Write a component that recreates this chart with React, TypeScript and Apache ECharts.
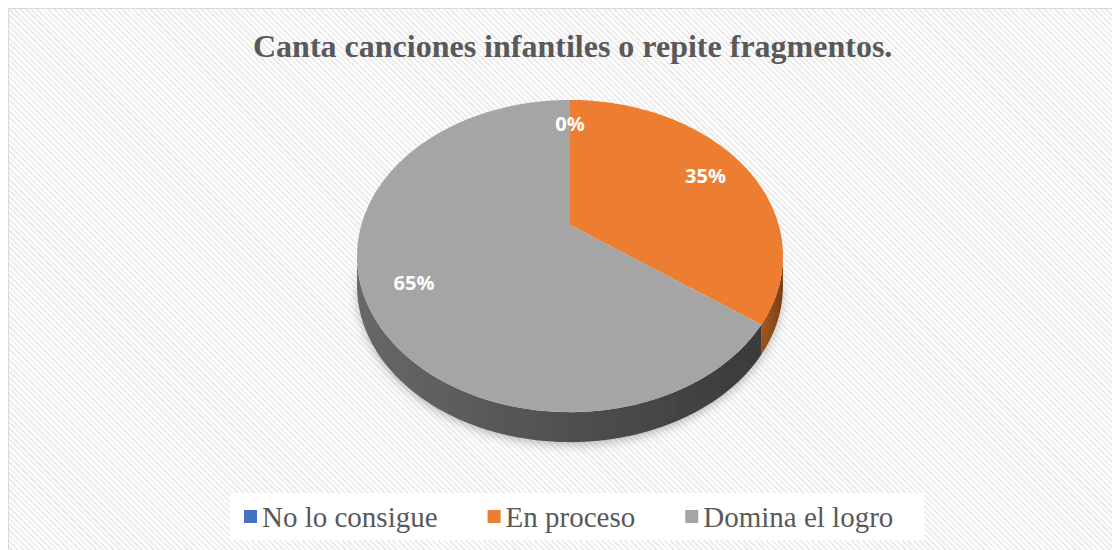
import React, { useEffect, useRef } from "react";
import * as echarts from "echarts";

const titleText = "Canta canciones infantiles o repite fragmentos.";
const categories = ["No lo consigue", "En proceso", "Domina el logro"];
const values = [0, 35, 65];
const colors = ["#4472C4", "#ED7D31", "#A5A5A5"];
const sideColors = [
  ["#2f5597", "#203864"],
  ["#a55a22", "#7a3d12"],
  ["#686868", "#3a3a3a"],
];

// projection geometry (pixels, chart coordinates)
const CX = 562;
const CY = 217;
const A = 208.7;
const B = 149.9;
const K = 0.199;
const DEPTH = 30;
const LABEL_R = 0.78;

function proj(theta: number, r: number): number[] {
  const u = r * Math.sin(theta);
  const v = r * Math.cos(theta);
  const d = 1 + K * v;
  return [CX + (A * u) / d, CY - (B * v) / d];
}

function rim(t1: number, t2: number, dy: number): number[][] {
  const pts: number[][] = [];
  const n = Math.max(2, Math.ceil(((t2 - t1) / (Math.PI * 2)) * 240));
  for (let i = 0; i <= n; i++) {
    const t = t1 + ((t2 - t1) * i) / n;
    const p = proj(t, 1);
    pts.push([p[0], p[1] + dy]);
  }
  return pts;
}

export default function App() {
  const ref = useRef<HTMLDivElement>(null);
  useEffect(() => {
    if (!ref.current) return;
    const chart = echarts.init(ref.current, undefined, { renderer: "svg" });
    const total = values.reduce((a, b) => a + b, 0);
    const starts: number[] = [];
    let acc = 0;
    values.forEach((v) => {
      starts.push(acc);
      acc += v;
    });
    const frontStart = Math.acos(-K);
    const frontEnd = Math.PI * 2 - Math.acos(-K);

    const series = categories.map((name, i) => ({
      type: "custom",
      name,
      coordinateSystem: "none",
      data: [[values[i]]],
      itemStyle: { color: colors[i] },
      renderItem: (params: any, api: any) => {
        const val = api.value(0) as number;
        const t1 = (starts[i] / total) * Math.PI * 2;
        const t2 = ((starts[i] + val) / total) * Math.PI * 2;
        const children: any[] = [];
        const a = Math.max(t1, frontStart);
        const b = Math.min(t2, frontEnd);
        if (b > a) {
          const top = rim(a, b, 0);
          const bottom = rim(a, b, DEPTH).reverse();
          children.push({
            type: "polygon",
            z2: 1,
            shape: { points: top.concat(bottom) },
            style: {
              fill: {
                type: "linear",
                x: 0,
                y: 0,
                x2: 1,
                y2: 0,
                colorStops: [
                  { offset: 0, color: sideColors[i][0] },
                  { offset: 1, color: sideColors[i][1] },
                ],
              },
              shadowBlur: 10,
              shadowColor: "rgba(0,0,0,0.25)",
              shadowOffsetY: 3,
            },
          });
        }
        if (t2 > t1) {
          const c = proj(0, 0);
          children.push({
            type: "polygon",
            z2: 2,
            shape: { points: [c].concat(rim(t1, t2, 0)) },
            style: { fill: colors[i] },
          });
        }
        const mid = (t1 + t2) / 2;
        const lp = proj(mid, LABEL_R);
        children.push({
          type: "text",
          z2: 3,
          x: lp[0],
          y: lp[1],
          style: {
            text: Math.round((val / total) * 100) + "%",
            fill: "#ffffff",
            font: "bold 20px 'Open Sans', 'Noto Sans', sans-serif",
            align: "center",
            verticalAlign: "middle",
          },
        });
        return { type: "group", children };
      },
    }));

    chart.setOption({
      animation: false,
      backgroundColor: "transparent",
      title: {
        text: titleText,
        left: 245,
        top: 22,
        padding: 0,
        textStyle: {
          fontFamily: "'Liberation Serif', 'Times New Roman', serif",
          fontWeight: "bold",
          fontSize: 32,
          color: "#595959",
        },
      },
      legend: {
        data: categories,
        left: 222,
        top: 485,
        icon: "rect",
        itemWidth: 13,
        itemHeight: 13,
        itemGap: 50,
        backgroundColor: "#ffffff",
        padding: [9, 31, 9, 14],
        selectedMode: false,
        textStyle: {
          fontFamily: "'Liberation Serif', 'Times New Roman', serif",
          fontSize: 29,
          color: "#595959",
        },
      },
      series,
    } as any);
    return () => chart.dispose();
  }, []);

  return (
    <div
      style={{
        position: "relative",
        width: 1104,
        height: 542,
        background:
          "repeating-linear-gradient(45deg, #ffffff 0px, #ffffff 2px, #ededed 2px, #ededed 4px)",
      }}
    >
      <div ref={ref} style={{ position: "absolute", left: 0, top: 0, width: 1104, height: 542 }} />
      <div
        style={{
          position: "absolute",
          left: -1,
          top: -1,
          width: 1104,
          height: 560,
          border: "2px solid #d9d9d9",
          pointerEvents: "none",
        }}
      />
    </div>
  );
}
